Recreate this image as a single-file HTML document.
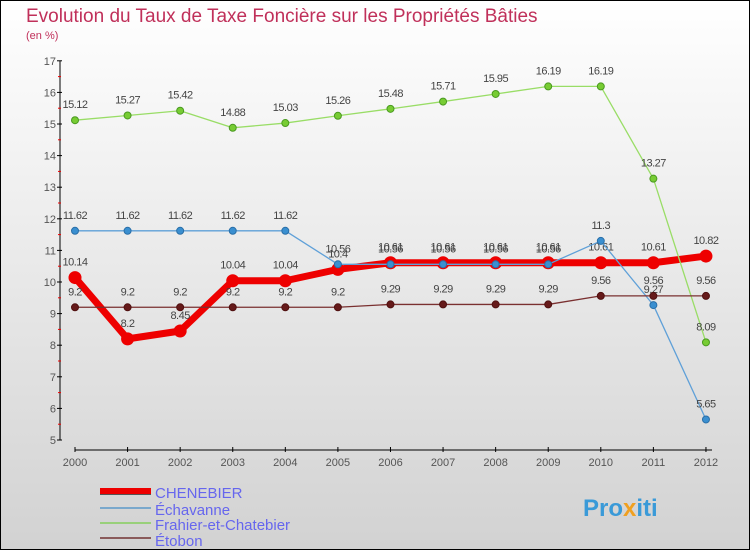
<!DOCTYPE html>
<html><head><meta charset="utf-8"><style>
body{margin:0}
#c{width:750px;height:550px;position:relative;overflow:hidden}
svg text{font-family:"Liberation Sans",sans-serif}
</style></head><body>
<div id="c">
<svg id="s" width="750" height="550" xmlns="http://www.w3.org/2000/svg">
<defs><linearGradient id="bg" x1="0" y1="0" x2="0" y2="1"><stop offset="0" stop-color="#ffffff"/><stop offset="1" stop-color="#d2d2d2"/></linearGradient></defs>
<rect x="0.5" y="0.5" width="749" height="549" fill="url(#bg)" stroke="#000"/>
<text x="26" y="22" font-size="19" fill="#c0305a">Evolution du Taux de Taxe Foncière sur les Propriétés Bâties</text>
<text x="26" y="39" font-size="11" fill="#c0305a">(en %)</text>
<g id="axes"></g><g id="series"></g>
<g>
<line x1="100" y1="492" x2="151" y2="492" stroke="#555" stroke-width="6"/>
<line x1="100" y1="491" x2="151" y2="491" stroke="#e00" stroke-width="6"/>
<line x1="100" y1="508" x2="151" y2="508" stroke="#7aa8cc" stroke-width="2"/>
<line x1="100" y1="523" x2="151" y2="523" stroke="#99d07a" stroke-width="2"/>
<line x1="100" y1="538" x2="151" y2="538" stroke="#8a5a5a" stroke-width="2"/>
<text x="155" y="498" font-size="15" fill="#6666ee">CHENEBIER</text>
<text x="155" y="515" font-size="15" fill="#6666ee">Échavanne</text>
<text x="155" y="530" font-size="15" fill="#6666ee">Frahier-et-Chatebier</text>
<text x="155" y="546" font-size="15" fill="#6666ee">Étobon</text>
</g>
<text x="583" y="516" font-size="24" font-weight="bold" fill="#3a9ad8">Pro<tspan fill="#f0a020">x</tspan>iti</text>
</svg></div>
<script>
const years=[2000,2001,2002,2003,2004,2005,2006,2007,2008,2009,2010,2011,2012];
const chenebier=[10.14,8.2,8.45,10.04,10.04,10.4,10.61,10.61,10.61,10.61,10.61,10.61,10.82];
const echavanne=[11.62,11.62,11.62,11.62,11.62,10.56,10.56,10.56,10.56,10.56,11.3,9.27,5.65];
const frahier=[15.12,15.27,15.42,14.88,15.03,15.26,15.48,15.71,15.95,16.19,16.19,13.27,8.09];
const etobon=[9.2,9.2,9.2,9.2,9.2,9.2,9.29,9.29,9.29,9.29,9.56,9.56,9.56];
const yTicks=[5,6,7,8,9,10,11,12,13,14,15,16,17];
const NS="http://www.w3.org/2000/svg";
const X=i=>75+i*52.58, Y=v=>440-(v-5)*31.6;
function mk(t,a,p){const e=document.createElementNS(NS,t);for(const k in a)e.setAttribute(k,a[k]);p.appendChild(e);return e;}
const ax=document.getElementById('axes');
mk('line',{x1:60,y1:Y(17),x2:60,y2:Y(5),stroke:'#000'},ax);
mk('line',{x1:75,y1:450,x2:712,y2:450,stroke:'#000'},ax);
yTicks.forEach(v=>{
 mk('line',{x1:57,y1:Y(v),x2:62,y2:Y(v),stroke:'#000'},ax);
 if(v<17)mk('line',{x1:58,y1:Y(v+0.5),x2:61,y2:Y(v+0.5),stroke:'#e00'},ax);
 const t=mk('text',{x:56,y:Y(v)+4,'font-size':11,fill:'#555','text-anchor':'end'},ax);
 
 
 t.textContent=v;
});
years.forEach((y,i)=>{
 mk('line',{x1:X(i),y1:447,x2:X(i),y2:452,stroke:'#000'},ax);
 const t=mk('text',{x:X(i),y:466,'font-size':11,fill:'#555','text-anchor':'middle'},ax);
 
 
 t.textContent=y;
});
const sg=document.getElementById('series');
function draw(name,data,color,w,r,mfill,mstroke){
 const g=mk('g',{},sg);
 
 
 mk('polyline',{points:data.map((v,i)=>X(i)+','+Y(v)).join(' '),fill:'none',stroke:color,'stroke-width':w,'stroke-linejoin':'round'},g);
 data.forEach((v,i)=>{
  const c=mk('circle',{cx:X(i),cy:Y(v),r:r,fill:mfill,stroke:mstroke,'stroke-width':1},g);
  
  
  const t=mk('text',{x:X(i),y:Y(v)-12,'font-size':11,fill:'#444','text-anchor':'middle','letter-spacing':'-0.5'},g);
  
  
  t.textContent=v;
 });
}
draw('chenebier-series',chenebier,'#ee0000',7,6,'#ee0000','#ee0000');
draw('echavanne-series',echavanne,'#5fa0d8',1.3,3.5,'#3a8fd0','#2a6fa8');
draw('frahier-series',frahier,'#99dd66',1.3,3.5,'#77cc33','#4a9a20');
draw('etobon-series',etobon,'#7a3030',1.3,3.5,'#661a1a','#501010');
</script></body></html>
